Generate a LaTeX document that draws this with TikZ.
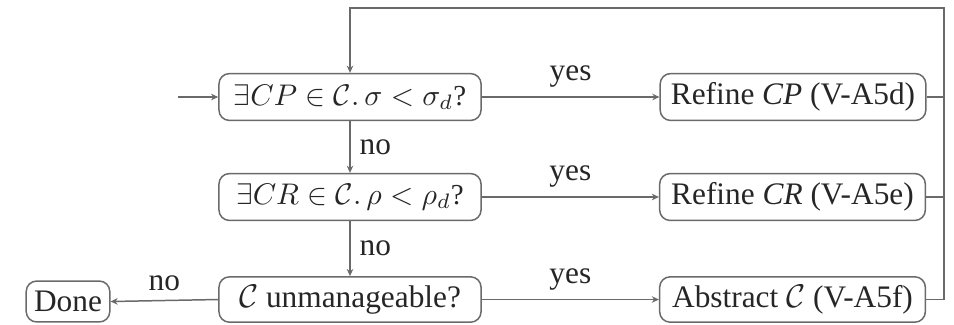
\documentclass[tikz,border=0pt]{standalone}
\usepackage{fontspec}
\setmainfont{Liberation Serif}
\usetikzlibrary{arrows.meta}
\definecolor{linegray}{HTML}{6A6A6A}
\definecolor{inkgray}{HTML}{262626}
\begin{document}
\begin{tikzpicture}[x=0.335pt,y=-0.335pt,
  box/.style={draw=linegray, line width=0.5pt, rounded corners=3.5pt,
    minimum height=15.7pt, inner sep=0pt,
    font=\fontsize{10.5}{12}\selectfont, text=inkgray},
  mathbox/.style={box, font=\fontsize{9.7}{11}\selectfont},
  flow/.style={draw=linegray, line width=0.5pt,
    -{Stealth[length=2.4pt,width=2.2pt]}},
  link/.style={draw=linegray, line width=0.5pt},
  lbl/.style={font=\fontsize{10.5}{12}\selectfont, text=inkgray, inner sep=1pt}]
\useasboundingbox (0,0) rectangle (954,324);

% decision boxes
\node[mathbox, minimum width=87.8pt] (q1) at (350,97) {$\exists CP \in \mathcal{C}.\,\sigma < \sigma_d$?};
\node[mathbox, minimum width=87.8pt] (q2) at (350,197) {$\exists CR \in \mathcal{C}.\,\rho < \rho_d$?};
\node[box, minimum width=87.8pt, minimum height=15.2pt] (q3) at (350,299.5) {$\mathcal{C}$ unmanageable?};

% action boxes
\node[box, minimum width=89pt] (r1) at (793,97) {Refine \textit{CP} (V-A5d)};
\node[box, minimum width=89pt] (r2) at (792.5,197) {Refine \textit{CR} (V-A5e)};
\node[box, minimum width=89pt, minimum height=15.2pt] (r3) at (792.5,299.5) {Abstract $\mathcal{C}$ (V-A5f)};

% terminal
\node[box, minimum width=28pt, minimum height=13.7pt] (done) at (68,301.5) {Done};

% entry
\coordinate (start) at (178,97);
\draw[flow] (start) -- (q1.west);

% yes branches
\draw[flow] (q1.east) -- node[lbl, above=2pt, pos=0.5] {yes} (r1.west);
\draw[flow] (q2.east) -- node[lbl, above=2pt, pos=0.5] {yes} (r2.west);
\draw[flow] (q3.east) -- node[lbl, above=2pt, pos=0.5] {yes} (r3.west);

% no branches
\draw[flow] (q1.south) -- node[lbl, right=2pt] {no} (q2.north);
\draw[flow] (q2.south) -- node[lbl, right=2pt] {no} (q3.north);
\draw[flow] (q3.west) -- node[lbl, above=2pt] {no} (done.east);

% feedback loop back to the first test
\coordinate (rail) at (944,8);
\draw[link] (r1.east) -- (r1.east -| rail);
\draw[link] (r2.east) -- (r2.east -| rail);
\draw[flow] (r3.east) -| (rail) -| (q1.north);
\end{tikzpicture}
\end{document}
